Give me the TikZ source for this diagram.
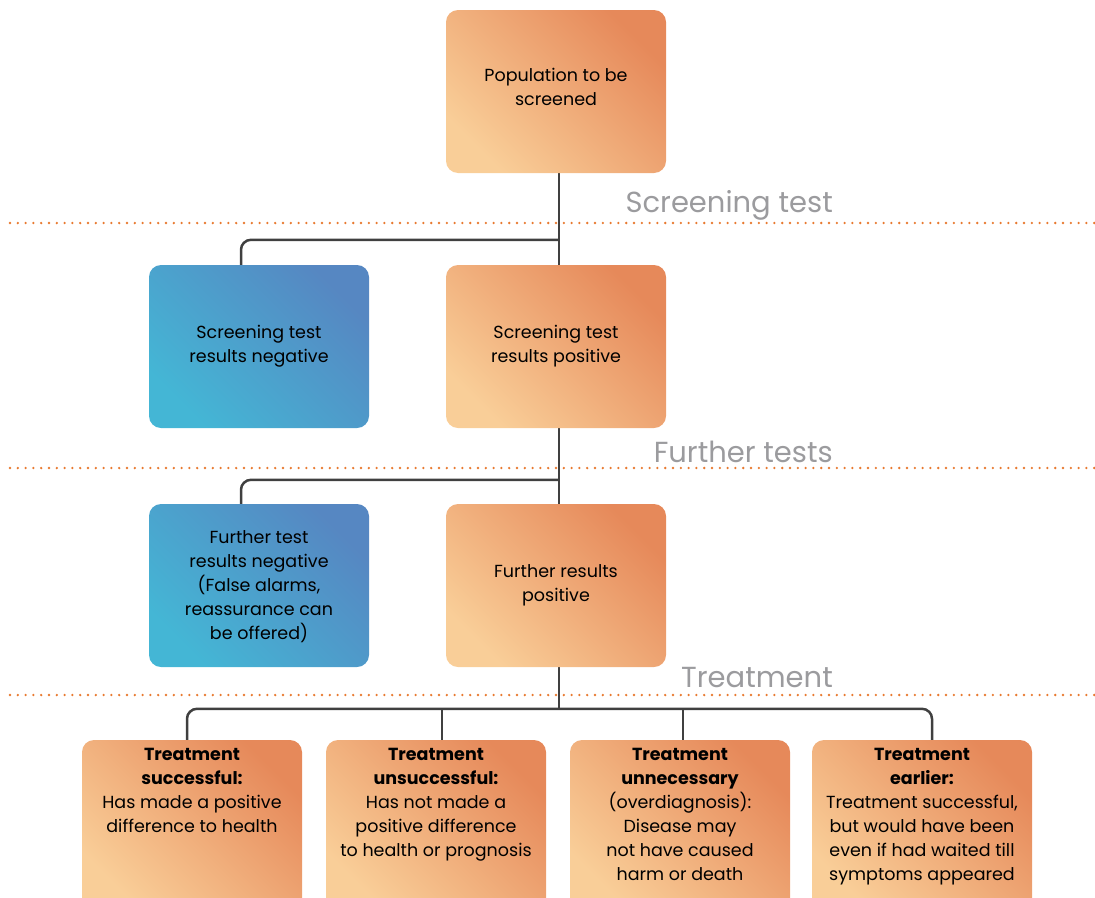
\documentclass[tikz,border=0pt]{standalone}
\usepackage{fontspec}
\setmainfont{Poppins}
\usetikzlibrary{calc,backgrounds}
\definecolor{orA}{HTML}{F9CE98}
\definecolor{orB}{HTML}{E6895A}
\definecolor{blA}{HTML}{44B6D5}
\definecolor{blB}{HTML}{5687C2}
\definecolor{dotc}{HTML}{E8792F}
\definecolor{lbl}{HTML}{9B9B9E}
\definecolor{conc}{HTML}{404040}
\begin{document}
\begin{tikzpicture}[x=1pt,y=-1pt,
  box/.style={rounded corners=12pt, minimum width=220pt, minimum height=163pt, inner sep=0pt, align=center, font=\fontsize{17.5}{24}\selectfont, text=black},
  obox/.style={box, left color=orA, right color=orB, shading angle=135},
  bbox/.style={box, left color=blA, right color=blB, shading angle=135},
  btxt/.style={align=center, inner sep=0pt, font=\fontsize{17.5}{24}\selectfont, text=black, anchor=north},
  conn/.style={draw=conc, line width=2.5pt},
  sep/.style={draw=dotc, line width=2.6pt, line cap=round, dash pattern=on 0pt off 7.8pt},
  stage/.style={text=lbl, font=\fontsize{29}{32}\selectfont, anchor=base east, inner sep=0pt}]
\useasboundingbox (0,0) rectangle (1095,897);
\clip (0,0) rectangle (1095,897);

% separators and stage labels
\coordinate (s1a) at (10,223); \coordinate (s1b) at (1095,223);
\coordinate (s2a) at (10,468); \coordinate (s2b) at (1095,468);
\coordinate (s3a) at (10,695); \coordinate (s3b) at (1095,695);
\draw[sep] (s1a) -- (s1b);
\draw[sep] (s2a) -- (s2b);
\draw[sep] (s3a) -- (s3b);
\node[stage] (l1) at (833,212) {Screening test};
\node[stage] (l2) at (833,462) {Further tests};
\node[stage] (l3) at (833,687) {Treatment};

% boxes
\node[obox] (pop) at (556,91.5) {Population to be\\screened\\[-14pt]};
\node[bbox] (neg1) at (259,346.5) {Screening test\\results negative};
\node[obox] (pos1) at (556,346.5) {Screening test\\results positive};
\node[bbox] (neg2) at (259,585.5) {\\[-8pt]Further test\\results negative\\(False alarms,\\reassurance can\\be offered)};
\node[obox] (pos2) at (556,585.5) {Further results\\positive};

\node[obox, minimum height=170pt] (t1) at (192,825) {};
\node[obox, minimum height=170pt] (t2) at (436,825) {};
\node[obox, minimum height=170pt] (t3) at (680,825) {};
\node[obox, minimum height=170pt] (t4) at (922,825) {};
\node[btxt] (t1x) at ($(t1.north)+(0,8)$) {\textbf{Treatment}\\\textbf{successful:}\\Has made a positive\\difference to health};
\node[btxt] (t2x) at ($(t2.north)+(0,8)$) {\textbf{Treatment}\\\textbf{unsuccessful:}\\Has not made a\\positive difference\\to health or prognosis};
\node[btxt] (t3x) at ($(t3.north)+(0,8)$) {\textbf{Treatment}\\\textbf{unnecessary}\\(overdiagnosis):\\Disease may\\not have caused\\harm or death};
\node[btxt] (t4x) at ($(t4.north)+(0,8)$) {\textbf{Treatment}\\\textbf{earlier:}\\Treatment successful,\\but would have been\\even if had waited till\\symptoms appeared};

% connectors
\begin{pgfonlayer}{background}
\coordinate (a0) at ($(pop.south)+(3,0)$);
\coordinate (a1) at ($(pos1.north)+(3,0)$);
\coordinate (n1) at ($(neg1.north)+(-18,0)$);
\draw[conn] (a0) -- (a1);
\draw[conn, rounded corners=10pt] (a1) ++(0,-25) -| (n1);
\coordinate (b0) at ($(pos1.south)+(3,0)$);
\coordinate (b1) at ($(pos2.north)+(3,0)$);
\coordinate (n2) at ($(neg2.north)+(-18,0)$);
\draw[conn] (b0) -- (b1);
\draw[conn, rounded corners=10pt] (b1) ++(0,-24) -| (n2);
\coordinate (c0) at ($(pos2.south)+(3,0)$);
\coordinate (d1) at ($(t1.north)+(-5,0)$);
\coordinate (d2) at ($(t2.north)+(6,0)$);
\coordinate (d3) at ($(t3.north)+(3,0)$);
\coordinate (d4) at ($(t4.north)+(10,0)$);
\coordinate (bar) at ($(d1)+(0,-31)$);
\draw[conn] (c0) -- (c0 |- bar);
\draw[conn, rounded corners=10pt] (d1) -- (bar) -- (bar -| d4) -- (d4);
\draw[conn] (d2) -- (d2 |- bar);
\draw[conn] (d3) -- (d3 |- bar);
\end{pgfonlayer}
\end{tikzpicture}
\end{document}
